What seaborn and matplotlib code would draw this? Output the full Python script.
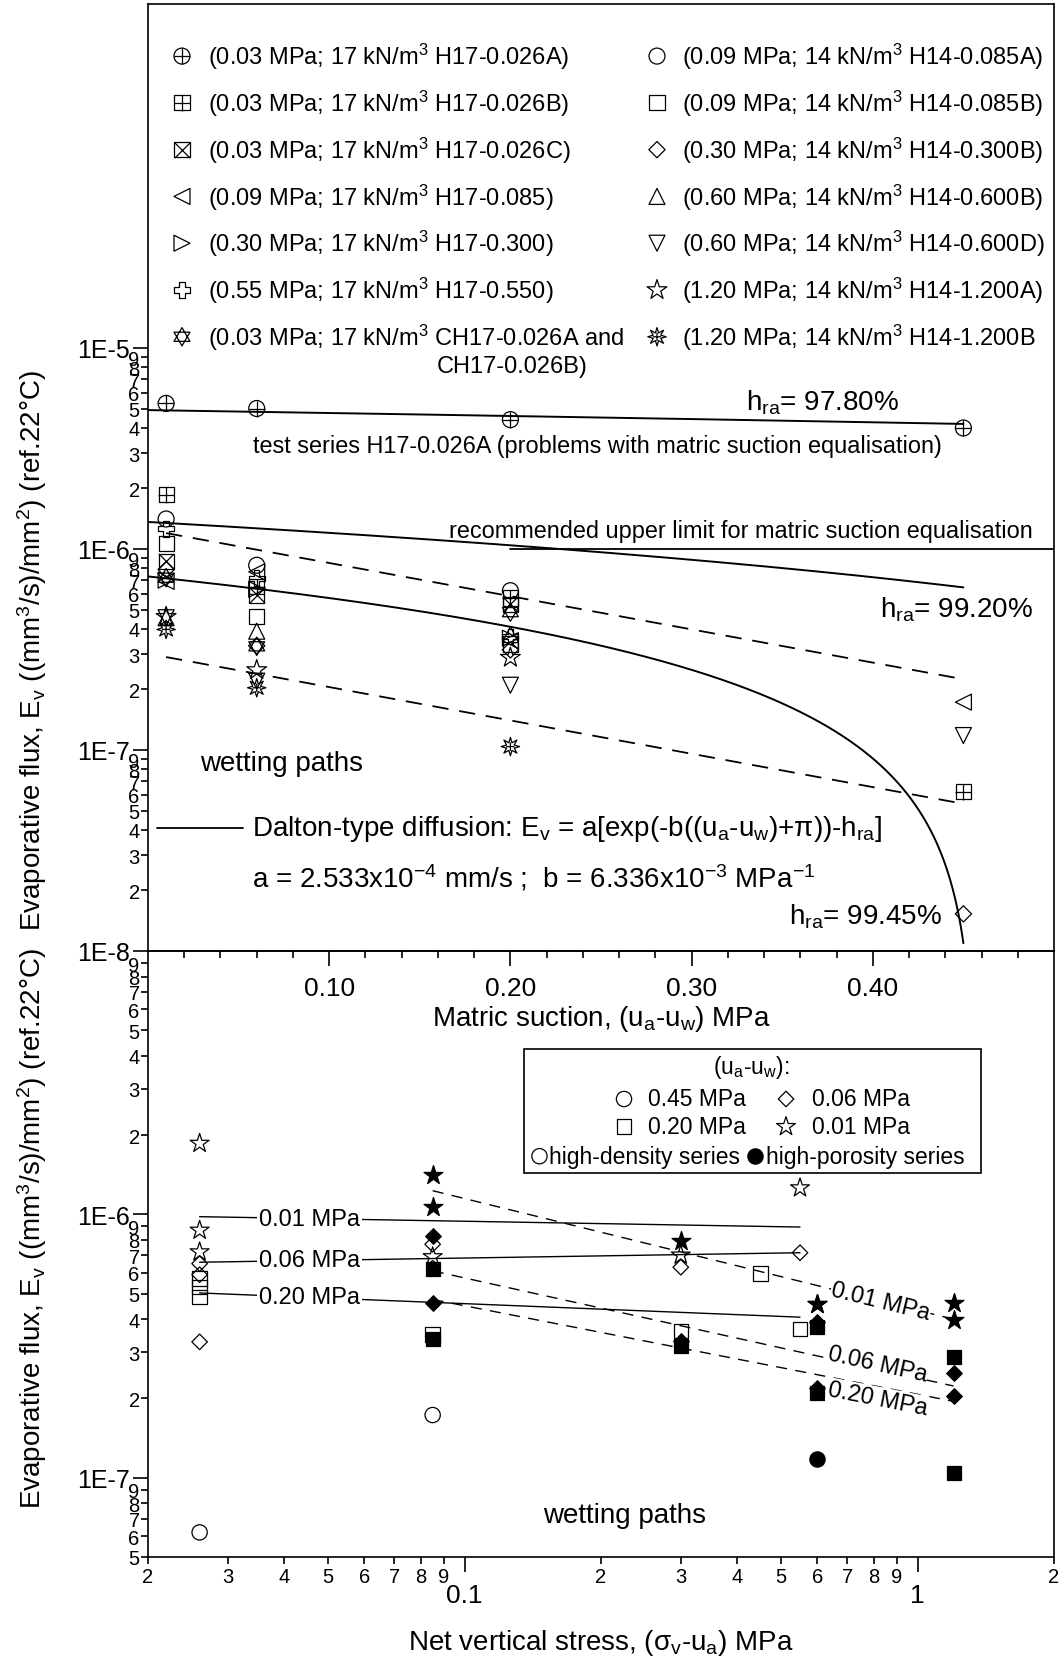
import numpy as np
import pandas as pd
import matplotlib
matplotlib.use("Agg")
import matplotlib.pyplot as plt
from matplotlib.path import Path
from matplotlib.markers import MarkerStyle
from matplotlib.ticker import FixedLocator, FuncFormatter, NullFormatter
from matplotlib.patches import Rectangle
import seaborn as sns

sns.set_theme(style="ticks")
plt.rcParams.update({
    "font.family": ["Liberation Sans", "DejaVu Sans"],
    "mathtext.fontset": "custom",
    "mathtext.rm": "Liberation Sans",
    "mathtext.it": "Liberation Sans",
    "mathtext.bf": "Liberation Sans:bold",
    "mathtext.sf": "Liberation Sans",
    "axes.linewidth": 1.2,
    "axes.edgecolor": "black",
    "text.color": "black",
    "xtick.color": "black",
    "ytick.color": "black",
})

# ---------------------------------------------------------------- data ----
suction = [0.01, 0.06, 0.20, 0.45]          # matric suction (u_a - u_w), MPa
nan = np.nan

# evaporative flux (mm^3/s)/mm^2 at each matric suction step
flux_h17_026a = [5.3e-6, 5.0e-6, 4.4e-6, 4.0e-6]
flux_h17_026b = [1.86e-6, 6.5e-7, 5.7e-7, 6.2e-8]
flux_h17_026c = [8.7e-7, 5.9e-7, 5.3e-7, nan]
flux_h17_085 = [6.9e-7, 7.7e-7, 3.5e-7, 1.73e-7]
flux_h17_300 = [7.0e-7, 6.3e-7, 3.6e-7, nan]
flux_h17_550 = [1.26e-6, 7.15e-7, 3.67e-7, nan]
flux_ch17_026 = [7.2e-7, 3.28e-7, 4.85e-7, nan]
flux_h14_085a = [1.41e-6, 8.3e-7, 6.2e-7, nan]
flux_h14_085b = [1.07e-6, 4.6e-7, 3.37e-7, nan]
flux_h14_300b = [7.9e-7, 3.3e-7, 3.15e-7, 1.53e-8]
flux_h14_600b = [4.55e-7, 3.9e-7, 3.75e-7, nan]
flux_h14_600d = [4.55e-7, 2.2e-7, 2.1e-7, 1.18e-7]
flux_h14_1200a = [4.6e-7, 2.5e-7, 2.88e-7, nan]
flux_h14_1200b = [3.98e-7, 2.04e-7, 1.04e-7, nan]

series_names = ["H17-0.026A", "H17-0.026B", "H17-0.026C", "H17-0.085",
                "H17-0.300", "H17-0.550", "CH17-0.026",
                "H14-0.085A", "H14-0.085B", "H14-0.300B", "H14-0.600B",
                "H14-0.600D", "H14-1.200A", "H14-1.200B"]
series_flux = [flux_h17_026a, flux_h17_026b, flux_h17_026c, flux_h17_085,
               flux_h17_300, flux_h17_550, flux_ch17_026,
               flux_h14_085a, flux_h14_085b, flux_h14_300b, flux_h14_600b,
               flux_h14_600d, flux_h14_1200a, flux_h14_1200b]
# net vertical stress (sigma_v - u_a), MPa
series_stress = [0.026, 0.026, 0.026, 0.085, 0.300, 0.550, 0.026,
                 0.085, 0.085, 0.300, 0.600, 0.600, 1.200, 1.200]
series_density = ["high-density"] * 7 + ["high-porosity"] * 7
series_symbol = ["circle_plus", "square_plus", "square_x", "tri_left",
                 "tri_right", "plus_outline", "hexagram",
                 "circle", "square", "diamond", "tri_up", "tri_down",
                 "star", "burst"]
series_labels = [
    "(0.03 MPa; 17 kN/m$^3$ H17-0.026A)",
    "(0.03 MPa; 17 kN/m$^3$ H17-0.026B)",
    "(0.03 MPa; 17 kN/m$^3$ H17-0.026C)",
    "(0.09 MPa; 17 kN/m$^3$ H17-0.085)",
    "(0.30 MPa; 17 kN/m$^3$ H17-0.300)",
    "(0.55 MPa; 17 kN/m$^3$ H17-0.550)",
    "(0.03 MPa; 17 kN/m$^3$ CH17-0.026A and",
    "(0.09 MPa; 14 kN/m$^3$ H14-0.085A)",
    "(0.09 MPa; 14 kN/m$^3$ H14-0.085B)",
    "(0.30 MPa; 14 kN/m$^3$ H14-0.300B)",
    "(0.60 MPa; 14 kN/m$^3$ H14-0.600B)",
    "(0.60 MPa; 14 kN/m$^3$ H14-0.600D)",
    "(1.20 MPa; 14 kN/m$^3$ H14-1.200A)",
    "(1.20 MPa; 14 kN/m$^3$ H14-1.200B",
]

# one further high-density test at 0.45 MPa net stress
extra_stress = [0.45]
extra_flux = [5.95e-7]
extra_suction = [0.20]

# Dalton-type diffusion model
dalton_a = 2.533e-4        # mm/s
dalton_b = 6.336e-3        # 1/MPa
osmotic_pi = 0.4136        # MPa
dalton_hra = [0.978, 0.992, 0.9945]

# bounding trends (dashed) in the suction plot
bound_suction = [0.01, 0.45]
bound_upper = [1.2e-6, 2.25e-7]
bound_lower = [2.9e-7, 5.4e-8]
limit_suction = [0.20, 0.50]
limit_flux = [1.0e-6, 1.0e-6]

# power-law trends versus net stress
hd_fit_stress = [0.026, 0.55]
hd_fit_001 = [9.8e-7, 8.95e-7]
hd_fit_006 = [6.58e-7, 7.15e-7]
hd_fit_020 = [5.03e-7, 4.07e-7]
hp_fit_stress = [0.085, 1.2]
hp_fit_001 = [1.23e-6, 4.0e-7]
hp_fit_006 = [6.1e-7, 2.23e-7]
hp_fit_020 = [4.75e-7, 1.95e-7]
fit_labels = ["0.01 MPa", "0.06 MPa", "0.20 MPa"]

# ------------------------------------------------------------- tables ----
rows = []
for name, flux, stress, dens, sym in zip(series_names, series_flux, series_stress,
                                         series_density, series_symbol):
    for s, f in zip(suction, flux):
        rows.append(dict(series=name, suction=s, flux=f, stress=stress,
                         density=dens, symbol=sym))
for st, f, s in zip(extra_stress, extra_flux, extra_suction):
    rows.append(dict(series="extra", suction=s, flux=f, stress=st,
                     density="high-density", symbol=None))
df = pd.DataFrame(rows).dropna(subset=["flux"])

# ------------------------------------------------------------- symbols ----
def hexagram_path():
    up = [(0, 1), (-0.866, -0.5), (0.866, -0.5), (0, 1)]
    dn = [(0, -1), (-0.866, 0.5), (0.866, 0.5), (0, -1)]
    codes = [Path.MOVETO, Path.LINETO, Path.LINETO, Path.CLOSEPOLY] * 2
    return Path(up + dn, codes)


def burst_path():
    ang = np.linspace(0, 2 * np.pi, 17)[:-1] + np.pi / 2
    rad = np.where(np.arange(16) % 2 == 0, 1.0, 0.45)
    verts = list(zip(rad * np.cos(ang), rad * np.sin(ang))) + [(0, 0)]
    codes = [Path.MOVETO] + [Path.LINETO] * 15 + [Path.CLOSEPOLY]
    verts += [(-0.45, 0), (0.45, 0), (0, -0.45), (0, 0.45)]
    codes += [Path.MOVETO, Path.LINETO, Path.MOVETO, Path.LINETO]
    return Path(verts, codes)


SYMBOLS = {
    "circle_plus": [("o", 1.0), ("+", 1.0)],
    "square_plus": [("s", 0.95), ("+", 0.95)],
    "square_x": [("s", 0.95), ("x", 0.95)],
    "tri_left": [("<", 1.0)],
    "tri_right": [(">", 1.0)],
    "plus_outline": [("P", 1.0)],
    "hexagram": [(hexagram_path(), 1.15)],
    "circle": [("o", 1.0)],
    "square": [("s", 0.95)],
    "diamond": [("D", 0.72)],
    "tri_up": [("^", 1.0)],
    "tri_down": [("v", 1.0)],
    "star": [("*", 1.3)],
    "burst": [(burst_path(), 1.15)],
}
MLW = 0.9
MSIZE = 11.5


def draw_symbol(ax, x, y, symbol, size=MSIZE, filled=False, key=False, zorder=4):
    for mk, scale in SYMBOLS[symbol]:
        s = (size * scale) ** 2
        is_filled = MarkerStyle(mk).is_filled()
        if key:
            if is_filled:
                ax.scatter(x, y, marker=mk, s=s, facecolor="black" if filled else "none",
                           edgecolor="black", linewidth=MLW, transform=ax.transAxes,
                           zorder=zorder, clip_on=False)
            else:
                ax.scatter(x, y, marker=mk, s=s, color="black", linewidth=MLW,
                           transform=ax.transAxes, zorder=zorder, clip_on=False)
        else:
            if is_filled:
                sns.scatterplot(x=x, y=y, ax=ax, marker=mk, s=s, color="black",
                                facecolor="black" if filled else "none",
                                edgecolor="black", linewidth=MLW, zorder=zorder,
                                legend=False)
            else:
                sns.scatterplot(x=x, y=y, ax=ax, marker=mk, s=s, color="black",
                                linewidth=MLW, zorder=zorder, legend=False)


def line(ax, x, y, lw=1.3, dashes=None, zorder=2):
    sns.lineplot(x=x, y=y, ax=ax, color="black", linewidth=lw, zorder=zorder,
                 legend=False, estimator=None, sort=False)
    ln = ax.lines[-1]
    if dashes is not None:
        ln.set_dashes(dashes)
    return ln


# -------------------------------------------------------------- figure ----
W, H = 1061, 1658
fig = plt.figure(figsize=(W / 100, H / 100), dpi=100)
x0, x1 = 148, 1054
ax_top = fig.add_axes([x0 / W, 1 - 952 / H, (x1 - x0) / W, (952 - 5) / H])
ax_bot = fig.add_axes([x0 / W, 1 - 1558 / H, (x1 - x0) / W, (1558 - 952) / H])
for ax in (ax_top, ax_bot):
    ax.patch.set_visible(False)
ax_top.set_zorder(3)

ax_top.set_yscale("log")
ax_bot.set_xscale("log")
ax_bot.set_yscale("log")
top_ylim = (1e-8, 10 ** (-5 + 344 / 201))
ax_top.set_xlim(0, 0.5)
ax_top.set_ylim(*top_ylim)
ax_bot.set_xlim(0.02, 2)
ax_bot.set_ylim(5e-8, 1e-5)

# ------------------------------------------------ top: flux vs suction ----
s_model = np.linspace(0.0, 0.45, 600)
for h in dalton_hra:
    e_model = dalton_a * (np.exp(-dalton_b * (s_model + osmotic_pi)) - h)
    line(ax_top, s_model, e_model, lw=1.4)
line(ax_top, bound_suction, bound_upper, lw=1.3, dashes=(9, 6))
line(ax_top, bound_suction, bound_lower, lw=1.3, dashes=(9, 6))
line(ax_top, limit_suction, limit_flux, lw=1.3)

for name, sym in zip(series_names, series_symbol):
    sub = df[df.series == name]
    draw_symbol(ax_top, sub.suction.tolist(), sub.flux.tolist(), sym)

# key of test series
key_y0, key_dy = 0.945, 0.0494
for i, (sym, lab) in enumerate(zip(series_symbol, series_labels)):
    col, row = divmod(i, 7)
    ky = key_y0 - row * key_dy
    kx = 0.0375 if col == 0 else 0.5618
    tx = 0.0662 if col == 0 else 0.5894
    draw_symbol(ax_top, [kx], [ky], sym, key=True)
    ax_top.text(tx, ky, lab, transform=ax_top.transAxes, ha="left", va="center",
                fontsize=17)
ax_top.text(0.319, key_y0 - 6 * key_dy - 0.031, "CH17-0.026B)",
            transform=ax_top.transAxes, ha="left", va="center", fontsize=17)

# annotations
ax_top.text(0.372, 5.4e-6, "h$_{ra}$= 97.80%", fontsize=20, ha="center", va="center")
ax_top.text(0.248, 3.28e-6,
            "test series H17-0.026A (problems with matric suction equalisation)",
            fontsize=16.9, ha="center", va="center")
ax_top.text(0.488, 1.23e-6, "recommended upper limit for matric suction equalisation",
            fontsize=16.9, ha="right", va="center")
ax_top.text(0.446, 5.07e-7, "h$_{ra}$= 99.20%", fontsize=20, ha="center", va="center")
ax_top.text(0.0735, 8.65e-8, "wetting paths", fontsize=20, ha="center", va="center")
line(ax_top, [0.0047, 0.0525], [4.08e-8, 4.08e-8], lw=1.3)
ax_top.text(0.0572, 4.08e-8,
            "Dalton-type diffusion: E$_v$ = a[exp(-b((u$_a$-u$_w$)+\u03c0))-h$_{ra}$]",
            fontsize=20, ha="left", va="center")
ax_top.text(0.0572, 2.33e-8,
            "a = 2.533x10$^{-4}$ mm/s ;  b = 6.336x10$^{-3}$ MPa$^{-1}$",
            fontsize=20, ha="left", va="center")
ax_top.text(0.396, 1.49e-8, "h$_{ra}$= 99.45%", fontsize=20, ha="center", va="center")

# ------------------------------------------- bottom: flux vs net stress ----
suction_symbol = {0.45: "circle", 0.20: "square", 0.06: "diamond", 0.01: "star"}
bot = df[df.series != "H17-0.026A"]
for (s, dens), sub in bot.groupby(["suction", "density"]):
    draw_symbol(ax_bot, sub.stress.tolist(), sub.flux.tolist(), suction_symbol[s],
                size=11, filled=(dens == "high-porosity"))

hd_fits = [hd_fit_001, hd_fit_006, hd_fit_020]
hp_fits = [hp_fit_001, hp_fit_006, hp_fit_020]
for fit in hd_fits:
    line(ax_bot, hd_fit_stress, fit, lw=1.0)
for fit in hp_fits:
    line(ax_bot, hp_fit_stress, fit, lw=1.0, dashes=(8, 6))


def on_fit(xs, ys, xq):
    return 10 ** np.interp(np.log10(xq), np.log10(xs), np.log10(ys))


for lab, fit in zip(fit_labels, hd_fits):
    xq = 0.0455
    ax_bot.text(xq, on_fit(hd_fit_stress, fit, xq), lab, fontsize=17, ha="center",
                va="center", zorder=5,
                bbox=dict(facecolor="white", edgecolor="none", pad=1.5))
# labels of the dashed trends sit along them, nudged apart where they crowd
hp_label_x = [0.829, 0.815, 0.815]
hp_label_shift = [0.0, 0.02, -0.045]      # decades
for lab, fit, xq, dy in zip(fit_labels, hp_fits, hp_label_x, hp_label_shift):
    p0 = ax_bot.transData.transform((hp_fit_stress[0], fit[0]))
    p1 = ax_bot.transData.transform((hp_fit_stress[1], fit[1]))
    ang = np.degrees(np.arctan2(p1[1] - p0[1], p1[0] - p0[0]))
    ax_bot.text(xq, on_fit(hp_fit_stress, fit, xq) * 10 ** dy, lab, fontsize=17,
                ha="center", va="center", rotation=ang, rotation_mode="anchor",
                zorder=5, bbox=dict(facecolor="white", edgecolor="none", pad=0.5))

ax_bot.text(0.2257, 7.22e-8, "wetting paths", fontsize=20, ha="center", va="center")

# key box
ax_bot.add_patch(Rectangle((0.4146, 0.6333), 0.9190 - 0.4146, 0.8376 - 0.6333,
                           transform=ax_bot.transAxes, facecolor="white",
                           edgecolor="black", linewidth=1.2, zorder=6))
ax_bot.text(0.6656, 0.8086, "(u$_a$-u$_w$):", transform=ax_bot.transAxes,
            fontsize=16.5, ha="center", va="center", zorder=7)
key_rows = [(0.7558, "circle", "0.45 MPa", "diamond", "0.06 MPa"),
            (0.7102, "square", "0.20 MPa", "star", "0.01 MPa")]
for ky, s1, l1, s2, l2 in key_rows:
    draw_symbol(ax_bot, [0.5254], [ky], s1, size=11, key=True, zorder=8)
    ax_bot.text(0.5519, ky, l1, transform=ax_bot.transAxes, fontsize=16.5,
                ha="left", va="center", zorder=7)
    draw_symbol(ax_bot, [0.7042], [ky], s2, size=11, key=True, zorder=8)
    ax_bot.text(0.733, ky, l2, transform=ax_bot.transAxes, fontsize=16.5,
                ha="left", va="center", zorder=7)
draw_symbol(ax_bot, [0.4321], [0.6614], "circle", size=11, key=True, zorder=8)
ax_bot.text(0.4426, 0.6614, "high-density series", transform=ax_bot.transAxes,
            fontsize=16.5, ha="left", va="center", zorder=7)
draw_symbol(ax_bot, [0.6703], [0.6614], "circle", size=11, filled=True, key=True, zorder=8)
ax_bot.text(0.6819, 0.6614, "high-porosity series", transform=ax_bot.transAxes,
            fontsize=16.5, ha="left", va="center", zorder=7)

# ---------------------------------------------------------------- axes ----
ax_top.set_xlim(0, 0.5)
ax_top.set_ylim(*top_ylim)
ax_bot.set_xlim(0.02, 2)
ax_bot.set_ylim(5e-8, 1e-5)


def sci_label(v, pos=None):
    return "1E%d" % int(round(np.log10(v)))


def digit_label(v, pos=None):
    e = np.floor(np.log10(v) + 1e-9)
    return "%d" % int(round(v / 10 ** e))


ax_top.xaxis.set_major_locator(FixedLocator([0.1, 0.2, 0.3, 0.4]))
ax_top.xaxis.set_major_formatter(FuncFormatter(lambda v, p: "%.2f" % v))
ax_top.xaxis.set_minor_locator(FixedLocator([0.02 * k for k in range(1, 25) if k % 5]))
ax_top.xaxis.set_minor_formatter(NullFormatter())
ax_top.yaxis.set_major_locator(FixedLocator([1e-8, 1e-7, 1e-6, 1e-5]))
ax_top.yaxis.set_major_formatter(FuncFormatter(sci_label))
ax_top.yaxis.set_minor_locator(FixedLocator([k * 10.0 ** e for e in (-8, -7, -6)
                                             for k in range(2, 10)]))
ax_top.yaxis.set_minor_formatter(FuncFormatter(digit_label))

ax_bot.xaxis.set_major_locator(FixedLocator([0.1, 1.0]))
ax_bot.xaxis.set_major_formatter(FuncFormatter(lambda v, p: "%g" % v))
ax_bot.xaxis.set_minor_locator(FixedLocator([k * 0.01 for k in range(2, 10)] +
                                            [k * 0.1 for k in range(2, 10)] + [2.0]))
ax_bot.xaxis.set_minor_formatter(FuncFormatter(digit_label))
ax_bot.yaxis.set_major_locator(FixedLocator([1e-7, 1e-6]))
ax_bot.yaxis.set_major_formatter(FuncFormatter(sci_label))
ax_bot.yaxis.set_minor_locator(FixedLocator([k * 1e-8 for k in range(5, 10)] +
                                            [k * 1e-7 for k in range(2, 10)] +
                                            [k * 1e-6 for k in range(2, 10)]))
ax_bot.yaxis.set_minor_formatter(FuncFormatter(digit_label))

for ax in (ax_top, ax_bot):
    ax.tick_params(which="both", direction="out", width=1.2, top=False, right=False)
    ax.tick_params(which="major", length=11, labelsize=18)
    ax.tick_params(which="minor", length=5, labelsize=14.5)
    ax.tick_params(axis="y", which="major", pad=2)
    ax.tick_params(axis="y", which="minor", pad=1)
    for sp in ax.spines.values():
        sp.set_visible(True)
        sp.set_linewidth(1.2)
ax_top.tick_params(axis="x", which="major", labelsize=19, pad=7)
ax_bot.tick_params(axis="x", which="minor", pad=2)
ax_bot.tick_params(axis="x", which="major", labelsize=19, pad=8)
ax_top.set_xlabel("")
ax_top.set_ylabel("")
ax_bot.set_xlabel("")
ax_bot.set_ylabel("")

ylab = "Evaporative flux, E$_v$ ((mm$^3$/s)/mm$^2$) (ref.22\u00b0C)"
fig.text(32 / W, 1 - 651 / H, ylab, rotation=90, fontsize=20, ha="center", va="center")
fig.text(32 / W, 1 - 1229 / H, ylab, rotation=90, fontsize=20, ha="center", va="center")
fig.text(601 / W, 1 - 1019 / H, "Matric suction, (u$_a$-u$_w$) MPa", fontsize=20,
         ha="center", va="center")
fig.text(601 / W, 1 - 1643 / H, "Net vertical stress, (\u03c3$_v$-u$_a$) MPa", fontsize=20,
         ha="center", va="center")

fig.savefig("out.png", dpi=100, facecolor="white")
